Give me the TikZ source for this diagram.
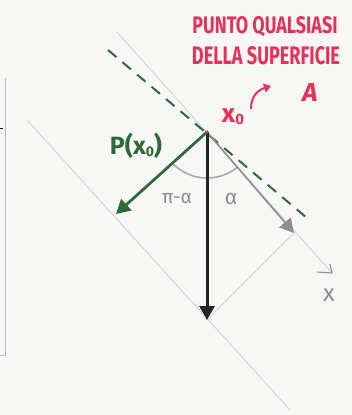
\documentclass[tikz,border=0pt]{standalone}
\usepackage{fontspec}
\setsansfont{Fira Sans}
\usetikzlibrary{arrows.meta}
\definecolor{redpen}{HTML}{E6315A}
\definecolor{greenpen}{HTML}{2E6B3A}
\definecolor{greypen}{HTML}{8E8E8E}
\definecolor{lightline}{HTML}{D2D2D2}
\definecolor{blackpen}{HTML}{252525}
\definecolor{bgpaper}{HTML}{F7F7F5}
\definecolor{framegrey}{HTML}{B8B8C0}
\tikzset{
  redtext/.style={text=redpen, inner sep=0pt, font=\sffamily\bfseries},
  greytext/.style={text=greypen, inner sep=0pt, font=\sffamily},
  faint/.style={draw=lightline, line width=0.9pt},
  vec/.style={line width=2.8pt, -{Triangle[length=14pt,width=15pt]}},
}
\begin{document}
\begin{tikzpicture}[x=1pt,y=-1pt]
\fill[bgpaper] (0,0) rectangle (352,415);
\useasboundingbox (0,0) rectangle (352,415);

% frame line at the left
\draw[framegrey, line width=0.8pt] (5,78) -- (5,355) -- (0,355);
\draw[blue!60!black, line width=1pt] (0,128) -- (3,128);

\coordinate (x0) at (207,132);
\coordinate (gtip) at (116,214);
\coordinate (btip) at (207,320);
\coordinate (stip) at (294,233);
\coordinate (s0) at (117,32);
\coordinate (s1) at (332,273);
\coordinate (l0) at (27,120);
\coordinate (l1) at (290,410);
\coordinate (d0) at (108,50);
\coordinate (d1) at (307,218);

% faint construction lines
\draw[faint] (s0) -- (s1);
\draw[faint] (l0) -- (l1);
\draw[faint] (btip) -- (stip);
\draw[greypen, line width=1.1pt] (317,272) -- (s1) -- (330,264);

% tangent plane, dashed
\draw[greenpen, line width=2pt, dash pattern=on 11pt off 8pt] (d0) -- (d1);

% angle arc
\draw[greypen!75, line width=1.6pt] plot[domain=49:138, samples=40] ({207+47*cos(\x)},{132+46*sin(\x)});

% vectors
\draw[vec, draw=greypen, fill=greypen, line width=1.6pt] (x0) -- (stip);
\draw[vec, draw=blackpen, fill=blackpen, line width=3pt] (x0) -- (btip);
\draw[vec, draw=greenpen, fill=greenpen] (x0) -- (gtip);
\fill[redpen] (x0) circle (1.8pt);

% labels
\node[redtext] (t1) at (265,27) {\resizebox{145pt}{17pt}{PUNTO QUALSIASI}};
\node[redtext] (t2) at (266,56) {\resizebox{148pt}{18pt}{DELLA SUPERFICIE}};
\node[redtext] (tA) at (310,92) {\resizebox{!}{18pt}{\itshape A}};
\node[redtext] (tx0) at (233,117) {{\fontsize{26}{26}\selectfont x}\raisebox{-2pt}{\fontsize{15}{15}\selectfont 0}};
\coordinate (ra) at (251,109);
\coordinate (rb) at (271,86);
\draw[redpen, line width=2pt, -{Triangle[length=7pt,width=9pt]}] (ra) .. controls (251,96) and (258,90) .. (rb);

\node[text=greenpen, inner sep=0pt, font=\sffamily\bfseries] (tP) at (136,146) {{\fontsize{25}{25}\selectfont P(x}\raisebox{-2pt}{\fontsize{14}{14}\selectfont 0}{\fontsize{25}{25}\selectfont )}};
\node[greytext] (tpa) at (177,199) {\fontsize{19}{19}\selectfont π-α};
\node[greytext] (ta) at (231,199) {\fontsize{21}{21}\selectfont α};
\node[greytext] (tx) at (329,295) {\fontsize{24}{24}\selectfont x};
\end{tikzpicture}
\end{document}
